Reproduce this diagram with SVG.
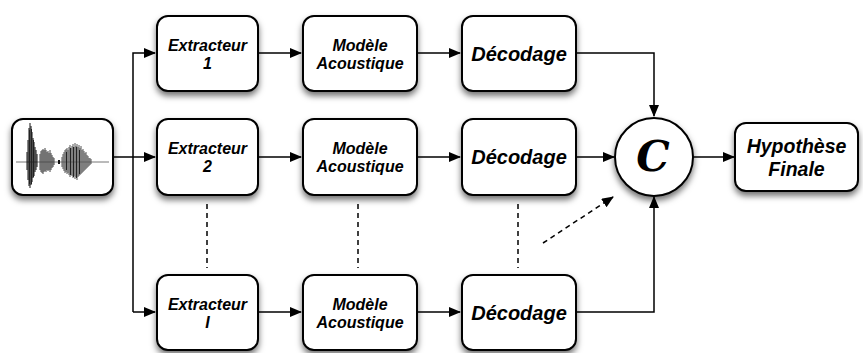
<svg xmlns="http://www.w3.org/2000/svg" width="863" height="353" viewBox="0 0 863 353">
<style>
.box{fill:#fff;stroke:#000;stroke-width:2;filter:url(#sh)}
.t{font-family:"Liberation Sans",Arial,sans-serif;font-weight:bold;font-style:italic;font-size:16px;text-anchor:middle;fill:#000}
.big{font-size:20px}
.ln{fill:none;stroke:#000;stroke-width:1.5}
.da{fill:none;stroke:#000;stroke-width:1.5;stroke-dasharray:5 4}
.wv{fill:none}
</style>
<defs>
<filter id="sh" x="-20%" y="-20%" width="140%" height="150%">
<feDropShadow dx="0" dy="4" stdDeviation="3" flood-color="#000" flood-opacity="0.55"/>
</filter>
<marker id="ah" markerWidth="12" markerHeight="10" refX="11" refY="5" orient="auto" markerUnits="userSpaceOnUse">
<path d="M0,0 L12,5 L0,10 z" fill="#000"/>
</marker>
</defs>
<g id="connectors">
<path class="ln" d="M113,157 H155" marker-end="url(#ah)"/>
<path class="ln" d="M133,312 V53 H155" marker-end="url(#ah)"/>
<path class="ln" d="M133,312 H155" marker-end="url(#ah)"/>
<path class="ln" d="M258,53 H301" marker-end="url(#ah)"/>
<path class="ln" d="M417,53 H460" marker-end="url(#ah)"/>
<path class="ln" d="M258,157 H301" marker-end="url(#ah)"/>
<path class="ln" d="M417,157 H460" marker-end="url(#ah)"/>
<path class="ln" d="M258,312 H301" marker-end="url(#ah)"/>
<path class="ln" d="M417,312 H460" marker-end="url(#ah)"/>
<path class="ln" d="M576,53 H654 V116" marker-end="url(#ah)"/>
<path class="ln" d="M576,157 H614" marker-end="url(#ah)"/>
<path class="ln" d="M576,312 H654 V197" marker-end="url(#ah)"/>
<path class="ln" d="M693,157 H734" marker-end="url(#ah)"/>
<path class="da" d="M207,204 V268"/>
<path class="da" d="M358,204 V268"/>
<path class="da" d="M518,204 V268"/>
<path class="da" d="M543,243 L613,197" marker-end="url(#ah)"/>
</g>
<g id="signal">
<rect class="box" x="12" y="119" width="101" height="76" rx="11"/>
<line x1="16" y1="162" x2="109" y2="162" stroke="#777" stroke-width="1"/>
<g class="wv" stroke-width="1">
<path stroke="#111" d="M27,152V170M28,140V180M29,128V186M30,123V188M31,126V185M32,132V182M33,138V178M34,142V176M35,147V172M36,150V170M37,154V167"/>
<path stroke="#222" d="M29.5,130V184M31.5,129V184M33.5,140V177"/>
<path stroke="#444" d="M40,154V170M41,151V172M42,150V173M43,149V174M44,150V172M45,148V171M46,150V172M47,152V170M48,151V171M49,153V170M50,150V172M51,153V170M52,155V168M53,157V167M54,158V165"/>
<path stroke="#111" stroke-width="2" d="M59,160V164"/>
<path stroke="#555" d="M62,157V167M63,154V169M64,152V171M65,150V173M66,149V172M67,148V174M68,150V173M69,147V175M70,145V177M71,148V175M72,146V176M73,144V178M74,147V176M75,143V179M76,146V177M77,144V180M78,147V177M79,145V176M80,148V175M81,146V174M82,150V173M83,149V172M84,151V171M85,153V170M86,152V169M87,155V168M88,156V167M89,158V166M90,158V165M91,159V164"/>
<path stroke="#222" d="M66.5,152V170M70.5,148V175M73.5,147V177M76.5,147V178M79.5,150V174"/>
</g>
</g>
<g id="ext1"><rect class="box" x="157" y="16" width="101" height="75" rx="11"/><text class="t" x="207.5" y="51">Extracteur</text><text class="t" x="207.5" y="69">1</text></g>
<g id="mod1"><rect class="box" x="303" y="16" width="114" height="75" rx="11"/><text class="t" x="360" y="51">Modèle</text><text class="t" x="360" y="69">Acoustique</text></g>
<g id="dec1"><rect class="box" x="462" y="16" width="114" height="75" rx="11"/><text class="t big" x="519" y="61">Décodage</text></g>
<g id="ext2"><rect class="box" x="157" y="119" width="101" height="76" rx="11"/><text class="t" x="207.5" y="154">Extracteur</text><text class="t" x="207.5" y="172">2</text></g>
<g id="mod2"><rect class="box" x="303" y="119" width="114" height="76" rx="11"/><text class="t" x="360" y="154">Modèle</text><text class="t" x="360" y="172">Acoustique</text></g>
<g id="dec2"><rect class="box" x="462" y="119" width="114" height="76" rx="11"/><text class="t big" x="519" y="164">Décodage</text></g>
<g id="extI"><rect class="box" x="157" y="275" width="101" height="75" rx="11"/><text class="t" x="207.5" y="310">Extracteur</text><text class="t" x="207.5" y="328">I</text></g>
<g id="modI"><rect class="box" x="303" y="275" width="114" height="75" rx="11"/><text class="t" x="360" y="310">Modèle</text><text class="t" x="360" y="328">Acoustique</text></g>
<g id="decI"><rect class="box" x="462" y="275" width="114" height="75" rx="11"/><text class="t big" x="519" y="320">Décodage</text></g>
<g id="comb"><circle class="box" cx="654" cy="157" r="39"/><text x="653" y="171" font-family="'DejaVu Serif',serif" font-weight="bold" font-style="italic" font-size="42" text-anchor="middle">C</text></g>
<g id="hyp"><rect class="box" x="735" y="123" width="123" height="68" rx="11"/><text class="t" style="font-size:19.5px" x="796.5" y="153">Hypothèse</text><text class="t" style="font-size:19.5px" x="796.5" y="176">Finale</text></g>
</svg>
